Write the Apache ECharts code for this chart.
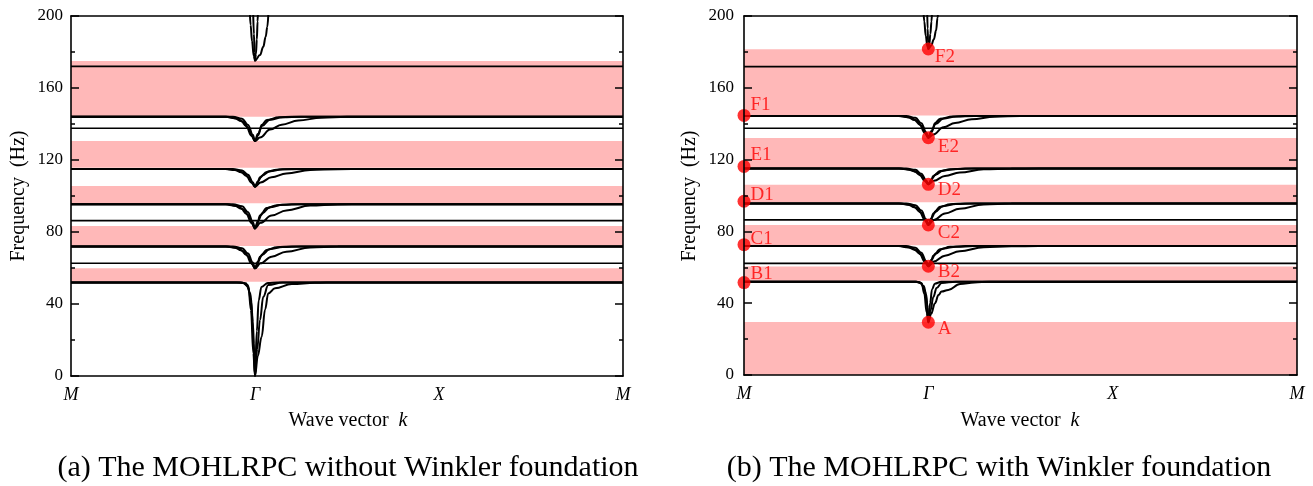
<!DOCTYPE html>
<html>
<head>
<meta charset="utf-8">
<script src="https://cdn.jsdelivr.net/npm/echarts@6/dist/echarts.min.js"></script>
<style>html,body{margin:0;padding:0;background:#fff;}#c{width:1313px;height:486px;}</style>
</head>
<body>
<div id="c"></div>
<script>
// ---------------- DATA ----------------
const kTicks = [0, 1, 2, 3];
const kLabels = ['M', 'Γ', 'X', 'M'];
const yTicks = [0, 40, 80, 120, 160, 200];

// band gaps [low, high] (Hz)
const gapsA = [[52.4, 59.8], [72.2, 83.3], [96, 105.5], [115.7, 130.5], [144, 175]];
const gapsB = [[0, 29.5], [52.5, 60.5], [72.3, 83.5], [96.3, 106], [115.5, 132], [144.5, 181.5]];

// flat bands (Hz)
const flatA = [62.6, 86.3, 137.6, 172];
const flatB = [62.2, 86.4, 137.5, 171.8];

// ---- panel (a) dispersion curves: [k, f] ----
const a1 = [
  [[0,52],[0.9,52],[0.936,51.7],[0.964,49.6],[0.978,36.7],[0.991,12.6],[1,0],[1.01,25],[1.02,42],[1.035,49.5],[1.07,51.7],[1.12,52],[3,52]],
  [[0,52],[0.92,52],[0.95,51.5],[0.975,46],[0.988,30],[0.996,12],[1,0],[1.015,11],[1.036,21.8],[1.055,37],[1.072,45.9],[1.109,48.7],[1.2,51.1],[1.326,51.8],[1.45,52],[3,52]],
  [[0,52],[0.93,52],[0.96,50.5],[0.98,41],[0.993,18],[1,0],[1.012,15],[1.027,31],[1.045,44],[1.072,50.5],[1.15,52],[3,52]]
];
const a2 = [
  [[0,72],[0.84,72],[0.89,71.3],[0.925,69.8],[0.953,67.3],[0.98,62.6],[1,59.8],[1.012,62],[1.027,66.3],[1.064,70],[1.118,71.5],[1.2,72],[3,72]],
  [[0,72],[0.85,72],[0.9,71.2],[0.935,69.5],[0.962,66.5],[0.985,62.2],[1,59.8],[1.03,62.6],[1.09,66.3],[1.17,69],[1.3,71.4],[1.45,71.9],[1.6,72],[3,72]],
  [[0,72],[0.88,72],[0.93,71],[0.962,68],[0.988,63],[1,59.8],[1.015,63.5],[1.04,67.5],[1.08,70.5],[1.15,71.7],[1.25,72],[3,72]]
];
const a3 = [
  [[0,95.4],[0.84,95.4],[0.89,94.6],[0.925,93.0],[0.953,90.2],[0.98,85.1],[1,82],[1.012,84.4],[1.027,89.1],[1.064,93.3],[1.118,94.9],[1.2,95.4],[3,95.4]],
  [[0,95.4],[0.85,95.4],[0.9,94.5],[0.935,92.7],[0.962,89.4],[0.985,84.7],[1,82],[1.03,85.1],[1.09,89.1],[1.17,92.0],[1.3,94.7],[1.45,95.3],[1.6,95.4],[3,95.4]],
  [[0,95.4],[0.88,95.4],[0.93,94.3],[0.962,91.0],[0.988,85.5],[1,82],[1.015,86.0],[1.04,90.4],[1.08,93.8],[1.15,95.1],[1.25,95.4],[3,95.4]]
];
const a4 = [
  [[0,115],[0.84,115],[0.89,114.4],[0.925,113.2],[0.953,111.2],[0.98,107.5],[1,105.2],[1.012,107.0],[1.027,110.4],[1.064,113.4],[1.118,114.6],[1.2,115],[3,115]],
  [[0,115],[0.85,115],[0.9,114.4],[0.935,113.0],[0.962,110.6],[0.985,107.2],[1,105.2],[1.03,107.5],[1.09,110.4],[1.17,112.5],[1.3,114.5],[1.45,114.9],[1.6,115],[3,115]],
  [[0,115],[0.88,115],[0.93,114.2],[0.962,111.8],[0.988,107.7],[1,105.2],[1.015,108.1],[1.04,111.4],[1.08,113.8],[1.15,114.8],[1.25,115],[3,115]]
];
const a5 = [
  [[0,144],[0.84,144],[0.89,143.2],[0.925,141.6],[0.953,138.8],[0.98,133.6],[1,130.5],[1.018,133.9],[1.036,139.4],[1.064,142.2],[1.13,143.7],[1.2,144],[3,144]],
  [[0,144],[0.85,144],[0.9,143.1],[0.935,141.3],[0.962,137.9],[0.985,133.2],[1,130.5],[1.027,132.5],[1.082,136.9],[1.145,139.6],[1.235,141.9],[1.36,143.5],[1.5,144],[3,144]],
  [[0,144],[0.88,144],[0.93,142.9],[0.962,139.5],[0.988,134.0],[1,130.5],[1.015,134.5],[1.04,139.0],[1.08,142.4],[1.15,143.7],[1.25,144],[3,144]]
];
const a6 = [
  [[0.972,202],[0.976,195],[0.984,186],[0.993,178],[1,175.2],[1.005,179],[1.01,187],[1.014,197],[1.016,202]],
  [[0.99,202],[0.994,190],[0.998,180],[1,175.2],[1.027,178.3],[1.045,182.9],[1.058,188.5],[1.067,194],[1.073,202]]
];

// ---- panel (b) dispersion curves: [k, f] ----
const b1 = [
  [[0,52],[0.9,52],[0.936,51.9],[0.964,51.0],[0.978,45.4],[0.991,34.8],[1,29.4],[1.01,40.2],[1.02,47.7],[1.035,50.9],[1.07,51.9],[1.12,52],[3,52]],
  [[0,52],[0.92,52],[0.95,51.8],[0.975,49.6],[0.988,45.0],[0.996,37.5],[1,29.4],[1.015,34],[1.036,40],[1.055,44.5],[1.072,46.5],[1.108,47.4],[1.172,50.7],[1.25,51.6],[1.33,52],[3,52]],
  [[0,52],[0.93,52],[0.96,51.3],[0.98,47.3],[0.993,40],[1,29.4],[1.012,36],[1.027,43.4],[1.045,48.5],[1.072,51.3],[1.15,52],[3,52]]
];
const b2 = [
  [[0,71.8],[0.84,71.8],[0.89,71.2],[0.925,69.8],[0.953,67.5],[0.98,63.2],[1,60.6],[1.012,62.6],[1.027,66.5],[1.064,70.0],[1.118,71.4],[1.2,71.8],[3,71.8]],
  [[0,71.8],[0.85,71.8],[0.9,71.1],[0.935,69.6],[0.962,66.8],[0.985,62.8],[1,60.6],[1.03,63.2],[1.09,66.5],[1.17,69.0],[1.3,71.2],[1.45,71.7],[1.6,71.8],[3,71.8]],
  [[0,71.8],[0.88,71.8],[0.93,70.9],[0.962,68.1],[0.988,63.5],[1,60.6],[1.015,64.0],[1.04,67.7],[1.08,70.5],[1.15,71.5],[1.25,71.8],[3,71.8]]
];
const b3 = [
  [[0,95.6],[0.84,95.6],[0.89,94.9],[0.925,93.4],[0.953,91.0],[0.98,86.4],[1,83.6],[1.012,85.8],[1.027,90.0],[1.064,93.7],[1.118,95.1],[1.2,95.6],[3,95.6]],
  [[0,95.6],[0.85,95.6],[0.9,94.8],[0.935,93.2],[0.962,90.2],[0.985,86.0],[1,83.6],[1.03,86.4],[1.09,90.0],[1.17,92.6],[1.3,95.0],[1.45,95.5],[1.6,95.6],[3,95.6]],
  [[0,95.6],[0.88,95.6],[0.93,94.6],[0.962,91.6],[0.988,86.7],[1,83.6],[1.015,87.2],[1.04,91.2],[1.08,94.2],[1.15,95.3],[1.25,95.6],[3,95.6]]
];
const b4 = [
  [[0,115],[0.84,115],[0.89,114.5],[0.925,113.4],[0.953,111.6],[0.98,108.2],[1,106.2],[1.012,107.8],[1.027,110.9],[1.064,113.6],[1.118,114.6],[1.2,115],[3,115]],
  [[0,115],[0.85,115],[0.9,114.4],[0.935,113.2],[0.962,111.0],[0.985,108.0],[1,106.2],[1.03,108.2],[1.09,110.9],[1.17,112.8],[1.3,114.6],[1.45,114.9],[1.6,115],[3,115]],
  [[0,115],[0.88,115],[0.93,114.3],[0.962,112.1],[0.988,108.5],[1,106.2],[1.015,108.8],[1.04,111.7],[1.08,113.9],[1.15,114.8],[1.25,115],[3,115]]
];
const b5 = [
  [[0,144.3],[0.84,144.3],[0.89,143.6],[0.925,142.1],[0.953,139.6],[0.98,135.0],[1,132.2],[1.018,135.3],[1.036,140.3],[1.064,142.8],[1.13,144.0],[1.2,144.3],[3,144.3]],
  [[0,144.3],[0.85,144.3],[0.9,143.5],[0.935,141.9],[0.962,138.9],[0.985,134.6],[1,132.2],[1.027,134.0],[1.082,138.0],[1.145,140.4],[1.235,142.5],[1.36,143.9],[1.5,144.3],[3,144.3]],
  [[0,144.3],[0.88,144.3],[0.93,143.3],[0.962,140.3],[0.988,135.3],[1,132.2],[1.015,135.8],[1.04,139.8],[1.08,142.8],[1.15,144.0],[1.25,144.3],[3,144.3]]
];
const b6 = [
  [[0.974,202],[0.978,197],[0.986,189],[0.995,183],[1,181.6],[1.005,184],[1.011,190],[1.017,197],[1.02,202]],
  [[0.994,202],[0.996,193],[0.999,185],[1,181.6],[1.015,183.5],[1.03,187],[1.042,192],[1.05,199],[1.053,202]]
];

// labelled points on panel (b)
const ptNames = ['A', 'B1', 'B2', 'C1', 'C2', 'D1', 'D2', 'E1', 'E2', 'F1', 'F2'];
const ptK     = [1, 0, 1, 0, 1, 0, 1, 0, 1, 0, 1];
const ptF     = [29.4, 51.5, 60.6, 72.6, 83.6, 96.8, 106.2, 116.2, 132.2, 144.6, 181.6];

// ---------------- STYLE / LAYOUT ----------------
const FONT = '"Liberation Serif", "Times New Roman", serif';
const PINK = '#ffb8b8';
const labelOffsets = {
  A: [3, 7], B1: [0, -9], B2: [3, 6], C1: [0, -6], C2: [3, 8], D1: [0, -6],
  D2: [3, 6], E1: [0, -11], E2: [3, 9], F1: [0, -10], F2: [0, 8]
};

const grids = [
  { left: 71, right: 690, top: 16, bottom: 110 },
  { left: 744, right: 16, top: 16, bottom: 111 }
];

function xAxes(gi) {
  return [
    { gridIndex: gi, type: 'value', min: kTicks[0], max: kTicks[kTicks.length - 1], interval: 1, z: 10,
      axisLine: { show: true, onZero: false, lineStyle: { color: '#000', width: 1.6 } },
      axisTick: { show: false }, splitLine: { show: false },
      axisLabel: { margin: 10, fontFamily: FONT, fontSize: 18, fontStyle: 'italic', color: '#000',
        formatter: v => kLabels[kTicks.indexOf(v)] || '' } },
    { gridIndex: gi, type: 'value', position: 'top', min: kTicks[0], max: kTicks[kTicks.length - 1], z: 10,
      axisLine: { show: true, onZero: false, lineStyle: { color: '#000', width: 1.6 } },
      axisTick: { show: false }, axisLabel: { show: false }, splitLine: { show: false } }
  ];
}
function yAxes(gi, margin) {
  const base = {
    gridIndex: gi, type: 'value', min: yTicks[0], max: yTicks[yTicks.length - 1], interval: 40, z: 10,
    axisLine: { show: true, onZero: false, lineStyle: { color: '#000', width: 1.6 } },
    axisTick: { show: true, inside: true, length: 8, lineStyle: { color: '#000', width: 1.5 } },
    minorTick: { show: true, splitNumber: 2, length: 4, lineStyle: { color: '#000', width: 1.5 } },
    splitLine: { show: false }, minorSplitLine: { show: false }
  };
  return [
    Object.assign({}, base, { position: 'left',
      axisLabel: { margin: margin, fontFamily: FONT, fontSize: 17, color: '#000' } }),
    Object.assign({}, base, { position: 'right', axisLabel: { show: false } })
  ];
}

const series = [];
function addGaps(gaps, xi, yi) {
  series.push({
    type: 'custom', xAxisIndex: xi, yAxisIndex: yi, z: 1, silent: true,
    data: gaps,
    encode: { x: 0, y: 1 },
    renderItem: (params, api) => {
      const lo = api.value(0), hi = api.value(1);
      const p1 = api.coord([kTicks[0], hi]);
      const p2 = api.coord([kTicks[kTicks.length - 1], lo]);
      return { type: 'rect', shape: { x: p1[0], y: p1[1], width: p2[0] - p1[0], height: p2[1] - p1[1] },
               style: { fill: PINK } };
    }
  });
}
function addFlat(vals, xi, yi) {
  vals.forEach(f => series.push({
    type: 'line', xAxisIndex: xi, yAxisIndex: yi, z: 3, silent: true, symbol: 'none',
    data: [[kTicks[0], f], [kTicks[kTicks.length - 1], f]],
    lineStyle: { color: '#000', width: 1.6 }
  }));
}
function addCurves(groups, xi, yi) {
  groups.forEach(g => g.forEach(c => series.push({
    type: 'line', xAxisIndex: xi, yAxisIndex: yi, z: 4, silent: true, symbol: 'none',
    smooth: 0.4, smoothMonotone: 'x', clip: true,
    data: c, lineStyle: { color: '#000', width: 2 }
  })));
}

addGaps(gapsA, 0, 0);
addGaps(gapsB, 2, 2);
addFlat(flatA, 0, 0);
addFlat(flatB, 2, 2);
addCurves([a1, a2, a3, a4, a5, a6], 0, 0);
addCurves([b1, b2, b3, b4, b5, b6], 2, 2);

series.push({
  type: 'scatter', xAxisIndex: 2, yAxisIndex: 2, z: 6, silent: true,
  symbolSize: 13, itemStyle: { color: '#ff0000' },
  data: ptNames.map((n, i) => ({
    name: n, value: [ptK[i], ptF[i]],
    label: { show: true, position: 'right', distance: 0, offset: labelOffsets[n], formatter: n,
             fontFamily: FONT, fontSize: 19, color: '#ff0000' }
  }))
});

const option = {
  animation: false,
  backgroundColor: '#fff',
  grid: grids,
  xAxis: xAxes(0).concat(xAxes(1)),
  yAxis: yAxes(0, 8).concat(yAxes(1, 10)),
  series: series,
  graphic: [
    { type: 'text', x: 19, y: 196, rotation: Math.PI / 2,
      style: { text: 'Frequency  (Hz)', fontFamily: FONT, fontSize: 20, fill: '#000', align: 'center', verticalAlign: 'middle' } },
    { type: 'text', x: 690, y: 196, rotation: Math.PI / 2,
      style: { text: 'Frequency  (Hz)', fontFamily: FONT, fontSize: 20, fill: '#000', align: 'center', verticalAlign: 'middle' } },
    { type: 'text', x: 348, y: 421,
      style: { text: 'Wave vector  {k|k}', fontFamily: FONT, fontSize: 20, fill: '#000', align: 'center', verticalAlign: 'middle',
               rich: { k: { fontFamily: FONT, fontSize: 20, fontStyle: 'italic', fill: '#000' } } } },
    { type: 'text', x: 1020, y: 421,
      style: { text: 'Wave vector  {k|k}', fontFamily: FONT, fontSize: 20, fill: '#000', align: 'center', verticalAlign: 'middle',
               rich: { k: { fontFamily: FONT, fontSize: 20, fontStyle: 'italic', fill: '#000' } } } },
    { type: 'text', x: 348, y: 468,
      style: { text: '(a) The MOHLRPC without Winkler foundation', fontFamily: FONT, fontSize: 30, fill: '#000', align: 'center', verticalAlign: 'middle' } },
    { type: 'text', x: 999, y: 468,
      style: { text: '(b) The MOHLRPC with Winkler foundation', fontFamily: FONT, fontSize: 30, fill: '#000', align: 'center', verticalAlign: 'middle' } }
  ]
};

const chart = echarts.init(document.getElementById('c'), null, { renderer: 'canvas' });
chart.setOption(option);
</script>
</body>
</html>
